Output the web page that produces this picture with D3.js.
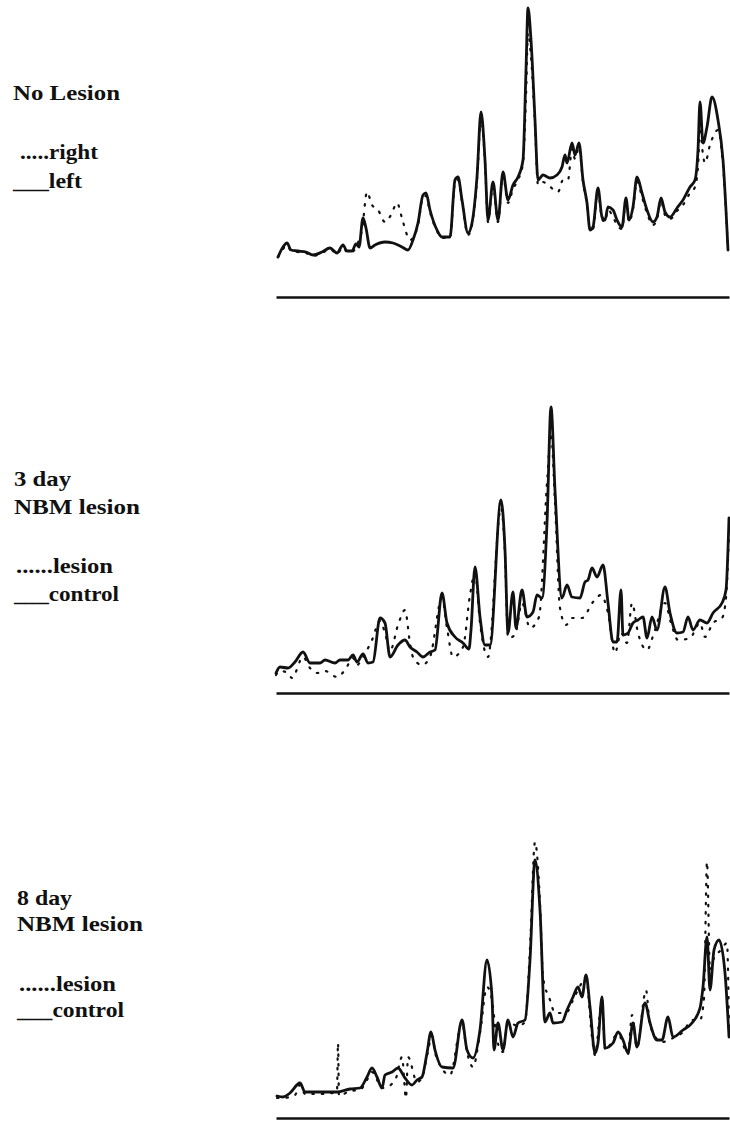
<!DOCTYPE html>
<html>
<head>
<meta charset="utf-8">
<script src="https://cdn.jsdelivr.net/npm/d3@7"></script>
<style>
  body { margin: 0; background: #fff; }
  svg { display: block; }
  .label { font-family: "Liberation Serif", "DejaVu Serif", serif; font-weight: bold; font-size: 22px; fill: #111; }
  .trace { fill: none; stroke: #111; stroke-linejoin: round; stroke-linecap: round; }
  .trace.solid { stroke-width: 2.8; }
  .trace.dotted { stroke-width: 2.2; stroke-dasharray: 1.5 8; }
  .axis path { stroke: #111; stroke-width: 2.4; }
</style>
</head>
<body>
<div id="chart"></div>
<script>
// values: [elution position, signal] in arbitrary units
const noLesionLeft = [
  [2,40],[7,50],[11,54],[15,47],[22,46],[30,45],[37,42],[46,45],[54,49],[61,44],[67,52],[71,46],[76,46],[80,53],[83,50],
  [87,79],[90,69],[94,49],[99,52],[109,55],[117,54],[126,50],[132,47],[137,57],[142,74],[147,102],[150,104],[154,87],
  [161,67],[166,60],[174,60],[179,117],[182,120],[186,97],[192,64],[196,74],[201,120],[205,185],[209,137],[212,77],
  [217,115],[222,77],[227,125],[232,97],[237,112],[242,120],[247,137],[250,227],[252,289],[255,257],[259,177],[262,117],
  [267,122],[274,119],[281,122],[286,130],[289,142],[291,134],[296,154],[299,142],[303,154],[307,117],[311,94],[314,67],
  [317,70],[322,109],[326,80],[329,77],[332,90],[337,87],[341,77],[346,70],[350,99],[353,77],[357,90],[361,120],[366,104],
  [371,87],[377,75],[381,80],[385,99],[389,85],[394,80],[401,89],[407,97],[414,110],[419,117],[422,147],[424,195],
  [427,154],[431,170],[436,200],[442,177],[447,137],[452,47]
];
const noLesionRight = [
  [2,40],[7,48],[11,52],[15,46],[22,45],[30,44],[37,41],[46,44],[54,48],[61,43],[67,50],[71,45],[76,45],[80,50],[83,57],
  [86,67],[91,105],[96,92],[102,87],[109,75],[115,82],[121,94],[127,75],[134,57],[142,72],[147,100],[150,101],[154,85],
  [161,66],[166,59],[174,59],[179,114],[182,117],[186,95],[192,62],[196,72],[201,117],[205,178],[209,135],[212,75],
  [217,112],[222,75],[227,122],[232,94],[237,108],[242,117],[247,134],[250,200],[252,264],[255,240],[259,172],[262,112],
  [267,115],[272,112],[282,105],[287,117],[292,117],[296,148],[299,138],[303,150],[307,115],[311,92],[314,66],[317,68],
  [322,106],[326,78],[329,75],[332,87],[337,80],[341,72],[346,68],[350,96],[353,75],[357,88],[361,116],[366,100],[371,84],
  [377,72],[381,78],[385,96],[389,82],[394,78],[401,86],[407,92],[414,104],[419,110],[422,130],[424,170],[427,142],
  [429,134],[434,152],[442,167],[447,132],[452,47]
];

const day3Control = [
  [0,20],[4,26],[12,25],[19,31],[27,41],[34,30],[44,30],[49,33],[59,30],[64,33],[72,33],[77,38],[81,31],[87,39],[92,30],
  [97,31],[104,75],[109,70],[114,36],[122,48],[129,53],[134,46],[141,41],[147,36],[154,41],[159,43],[166,100],[171,70],
  [179,56],[187,50],[193,44],[195,63],[199,126],[204,76],[209,48],[214,48],[225,193],[229,143],[232,60],[237,101],
  [240,65],[246,103],[251,76],[257,81],[261,98],[266,95],[271,170],[275,286],[279,203],[286,95],[291,108],[296,96],
  [304,95],[309,111],[312,113],[316,125],[321,116],[327,128],[332,90],[337,51],[341,51],[345,103],[347,58],[352,60],
  [357,70],[362,73],[367,76],[371,55],[376,76],[381,63],[389,106],[394,80],[401,60],[407,61],[412,76],[417,63],[424,73],
  [431,70],[437,80],[446,90],[450,103],[453,175]
];
const day3Lesion = [
  [0,18],[4,22],[12,20],[16,15],[27,36],[34,25],[41,20],[49,22],[61,16],[69,23],[77,35],[81,28],[87,36],[96,53],[104,72],
  [109,60],[114,42],[122,68],[129,83],[134,50],[137,36],[146,28],[154,36],[166,95],[171,65],[177,36],[187,46],[194,98],
  [199,120],[204,70],[212,36],[225,185],[229,138],[232,55],[239,58],[246,90],[254,65],[263,76],[271,210],[275,260],
  [279,190],[284,85],[290,68],[296,75],[306,75],[317,91],[325,98],[332,80],[339,40],[345,60],[351,50],[356,90],[362,60],
  [371,43],[378,60],[389,90],[395,70],[402,53],[414,55],[424,70],[429,56],[437,70],[446,75],[450,95],[453,160]
];

const day8Control = [
  [1,22],[7,21],[14,25],[24,35],[29,26],[44,26],[61,26],[74,29],[84,30],[91,41],[96,50],[101,41],[106,30],[109,43],
  [116,46],[122,50],[129,40],[136,33],[141,38],[146,41],[151,65],[155,86],[159,68],[166,51],[177,50],[186,98],[191,68],
  [197,60],[204,88],[211,158],[216,121],[218,68],[222,95],[227,68],[232,98],[237,81],[242,95],[249,98],[254,158],
  [259,258],[264,208],[269,96],[274,105],[277,95],[286,96],[291,108],[297,121],[302,131],[306,121],[310,143],[314,111],
  [319,65],[322,75],[326,121],[329,70],[337,75],[342,86],[347,78],[352,65],[357,95],[361,71],[369,115],[374,95],[381,78],
  [386,78],[392,101],[397,81],[407,88],[416,95],[424,110],[427,131],[431,181],[434,128],[438,168],[443,178],[449,145],
  [453,81]
];
const day8Lesion = [
  [1,20],[7,20],[19,23],[24,33],[29,24],[44,24],[61,26],[62,75],[63,22],[74,27],[84,28],[91,38],[96,46],[101,38],[106,30],
  [111,31],[120,40],[126,61],[130,20],[132,61],[141,36],[146,40],[151,62],[156,82],[160,62],[174,43],[186,95],[191,66],
  [197,51],[204,85],[211,131],[216,118],[221,78],[227,66],[232,96],[242,92],[249,96],[254,170],[259,276],[264,215],
  [267,141],[274,118],[279,105],[284,105],[291,106],[297,118],[302,128],[310,140],[316,81],[319,63],[326,118],[329,68],
  [342,84],[352,64],[356,103],[361,70],[370,128],[374,92],[386,76],[397,80],[407,86],[416,98],[424,98],[428,120],
  [431,256],[434,148],[438,160],[445,168],[451,175],[453,90]
];

const panels = [
  { title: ["No Lesion"], dotted: "right", solid: "left", dottedData: noLesionRight, solidData: noLesionLeft },
  { title: ["3 day", "NBM lesion"], dotted: "lesion", solid: "control", dottedData: day3Lesion, solidData: day3Control },
  { title: ["8 day", "NBM lesion"], dotted: "lesion", solid: "control", dottedData: day8Lesion, solidData: day8Control }
];

const width = 730, height = 1123;
// layout measured off the page: baseline of each trace panel and label positions
const axisY = [297, 693, 1118];
const labelX = [13, 14, 17];
const labelY = [[100], [486, 514], [905, 931]];
const titleWidths = [[107], [57, 126], [55, 126]];
const legendY = [[159, 188], [573, 601], [991, 1017]];
const legendWidths = [[78, 69], [97, 105], [97, 107]];

const svg = d3.select("#chart").append("svg")
  .attr("width", width)
  .attr("height", height);

const x = d3.scaleLinear().domain([0, 453]).range([276, 729]);

const line = y => d3.line()
  .x(d => x(d[0]))
  .y(d => y(d[1]))
  .curve(d3.curveMonotoneX);

panels.forEach((p, i) => {
  const y = d3.scaleLinear().domain([0, 300]).range([axisY[i], axisY[i] - 300]);
  const g = svg.append("g").attr("class", "panel");

  g.append("g")
    .attr("class", "axis")
    .attr("transform", "translate(0," + axisY[i] + ")")
    .call(d3.axisBottom(x).tickValues([]).tickSizeOuter(0));

  g.append("path")
    .datum(p.dottedData)
    .attr("class", "trace dotted")
    .attr("d", line(y));

  g.append("path")
    .datum(p.solidData)
    .attr("class", "trace solid")
    .attr("d", line(y));

  p.title.forEach((t, j) => {
    g.append("text")
      .attr("class", "label")
      .attr("x", labelX[i])
      .attr("y", labelY[i][j])
      .attr("textLength", titleWidths[i][j])
      .attr("lengthAdjust", "spacingAndGlyphs")
      .text(t);
  });

  g.append("text")
    .attr("class", "label")
    .attr("x", labelX[i] + (i === 0 ? 7 : 2))
    .attr("y", legendY[i][0])
    .attr("textLength", legendWidths[i][0])
    .attr("lengthAdjust", "spacingAndGlyphs")
    .text((i === 0 ? "....." : "......") + p.dotted);

  g.append("text")
    .attr("class", "label")
    .attr("x", labelX[i])
    .attr("y", legendY[i][1])
    .attr("textLength", legendWidths[i][1])
    .attr("lengthAdjust", "spacingAndGlyphs")
    .text("___" + p.solid);
});
</script>
</body>
</html>
